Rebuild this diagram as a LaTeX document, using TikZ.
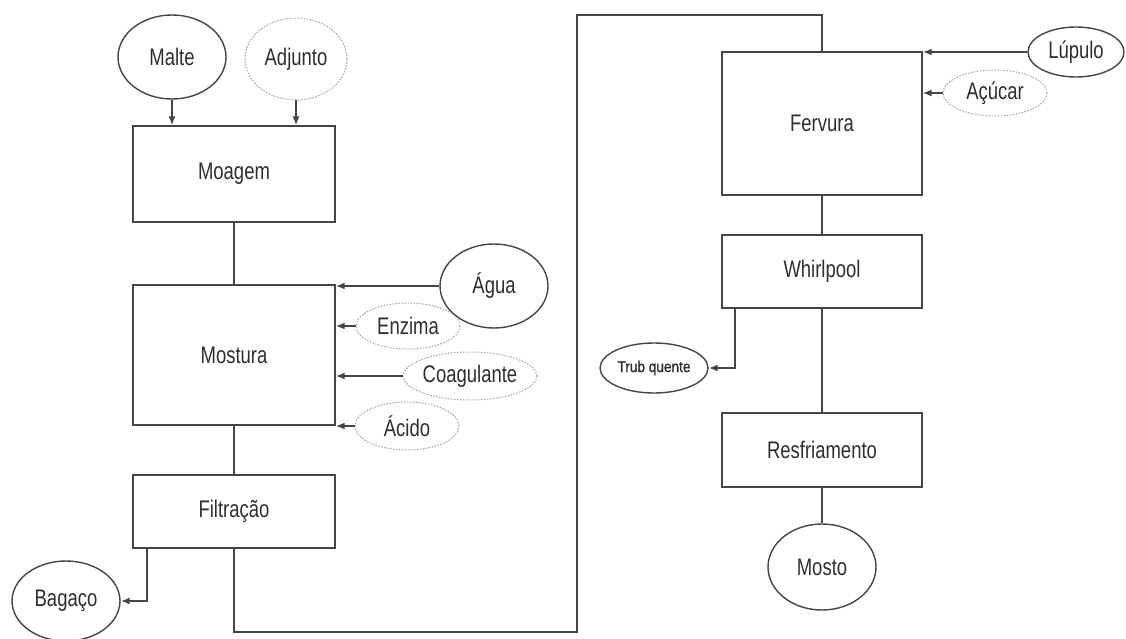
\documentclass[tikz,border=0pt]{standalone}
\usepackage{fontspec}
\setmainfont{Liberation Sans}
\newfontfamily\nf[FakeStretch=0.77]{Liberation Sans}
\newfontfamily\tf[FakeStretch=0.88,FakeBold=1.5]{Liberation Sans}
\usetikzlibrary{arrows.meta,shapes.geometric}
\definecolor{ln}{HTML}{454545}
\definecolor{tx}{HTML}{2E2E2E}
\definecolor{dt}{HTML}{A0A0A0}
\begin{document}
\begin{tikzpicture}[x=1pt,y=-1pt,
  box/.style={draw=ln, line width=1.4pt, rectangle, inner sep=0pt, minimum width=202pt, text=tx, font=\nf\fontsize{24}{26}\selectfont},
  ell/.style={draw=ln, line width=1.4pt, ellipse, inner sep=0pt, text=tx, font=\nf\fontsize{24}{26}\selectfont},
  dell/.style={ell, draw=dt, line width=1pt, dash pattern=on 1.5pt off 1.5pt},
  con/.style={draw=ln, line width=1.4pt},
  arr/.style={con, -{Latex[length=9pt,width=7pt]}},
  thk/.style={line width=2pt}]
\useasboundingbox (0,0) rectangle (1126,639);
% boxes
\node[box, minimum height=96pt] (moa) at (234,174) {Moagem};
\node[box, minimum height=140pt] (mos) at (234,355) {Mostura};
\node[box, minimum height=73pt] (fil) at (234,511.5) {Filtração};
\node[box, minimum width=200pt, minimum height=143pt] (fer) at (822,123.5) {Fervura};
\node[box, minimum width=200pt, minimum height=73pt] (whi) at (822,271.5) {Whirlpool};
\node[box, minimum width=200pt, minimum height=74pt] (res) at (822,450) {Resfriamento};
% ellipses
\node[ell, minimum width=108pt, minimum height=84pt] (malte) at (172,57) {Malte};
\node[dell, minimum width=102pt, minimum height=82pt] (adj) at (296,59) {Adjunto};
\node[ell, minimum width=108pt, minimum height=84pt] (agua) at (494,286) {Água};
\node[dell, minimum width=104pt, minimum height=46pt] (enz) at (408,326) {Enzima};
\node[dell, minimum width=104pt, minimum height=48pt] (coa) at (470,376) {Coagulante};
\node[dell, minimum width=104pt, minimum height=48pt] (aci) at (407,426) {Ácido};
\node[ell, minimum width=108pt, minimum height=80pt] (bag) at (66,601) {Bagaço};
\node[ell, minimum width=96pt, minimum height=50pt] (lup) at (1076,52) {Lúpulo};
\node[dell, minimum width=104pt, minimum height=46pt] (acu) at (995,93) {Açúcar};
\node[ell, minimum width=108pt, minimum height=50pt, font=\tf\fontsize{15.5}{17}\selectfont] (trub) at (654,368) {Trub quente};
\node[ell, minimum width=108pt, minimum height=86pt] (mosto) at (822,567) {Mosto};
% connectors
\draw[arr] (malte.south) -- (malte.south |- moa.north);
\draw[arr] (adj.south) -- (adj.south |- moa.north);
\draw[con] (moa.south) -- (mos.north);
\draw[arr, thk] (agua.west) -- (agua.west -| mos.east);
\draw[arr] (enz.west) -- (enz.west -| mos.east);
\draw[arr, thk] (coa.west) -- (coa.west -| mos.east);
\draw[arr] (aci.west) -- (aci.west -| mos.east);
\draw[con] (mos.south) -- (fil.north);
\draw[arr, thk] ([xshift=-87pt]fil.south) |- (bag.east);
\coordinate (b1) at (577,632);
\coordinate (t1) at (577,15);
\draw[con] (fil.south) |- (b1) -- (t1) -| (fer.north);
\draw[arr, thk] (lup.west) -- (lup.west -| fer.east);
\draw[arr] (acu.west) -- (acu.west -| fer.east);
\draw[con] (fer.south) -- (whi.north);
\draw[arr, thk] ([xshift=-87pt]whi.south) |- (trub.east);
\draw[con] (whi.south) -- (res.north);
\draw[con] (res.south) -- (mosto.north);
\end{tikzpicture}
\end{document}
